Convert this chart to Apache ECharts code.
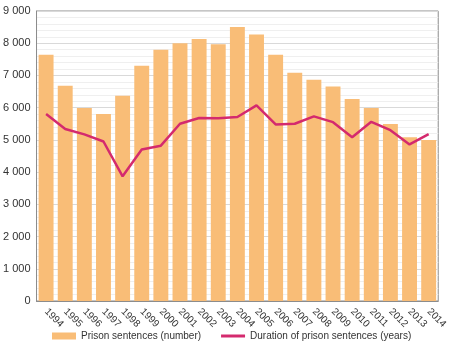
<!DOCTYPE html>
<html><head><meta charset="utf-8">
<script src="https://cdn.jsdelivr.net/npm/echarts@6/dist/echarts.min.js"></script>
<style>html,body{margin:0;padding:0;background:#fff}#c{width:450px;height:354px}</style>
</head><body><div id="c"></div>
<script>
var years = ['1994','1995','1996','1997','1998','1999','2000','2001','2002','2003','2004','2005','2006','2007','2008','2009','2010','2011','2012','2013','2014'];
var sentences = [7640,6680,5990,5800,6370,7300,7800,8000,8130,7970,8500,8270,7640,7080,6870,6660,6270,5990,5490,5080,5000];
var duration = [5800,5340,5170,4950,3870,4700,4820,5500,5680,5670,5710,6070,5480,5500,5730,5550,5080,5560,5300,4860,5180];
var yTicks = {min:0, max:9000, interval:1000};

var chart = echarts.init(document.getElementById('c'), null, {renderer:'canvas'});
chart.setOption({
  animation:false,
  textStyle:{fontFamily:'Liberation Sans, Arial, sans-serif'},
  grid:{left:35, right:11, top:11, bottom:53, show:true, borderColor:'#8c8c8c', borderWidth:1},
  legend:{
    bottom:8, left:47, width:420, orient:'horizontal', itemGap:20, itemWidth:24, itemHeight:7,
    textStyle:{fontSize:10, color:'#333', fontFamily:'Liberation Sans, Arial, sans-serif'},
    data:[
      {name:'Prison sentences (number)', icon:'rect'},
      {name:'Duration of prison sentences (years)', icon:'path://M0,0H24V3H0Z'}
    ]
  },
  xAxis:{
    type:'category', data:years,
    axisLine:{lineStyle:{color:'#8c8c8c'}},
    axisTick:{show:false},
    axisLabel:{rotate:-45, fontSize:10, color:'#333', interval:0, margin:9}
  },
  yAxis:{
    type:'value', min:yTicks.min, max:yTicks.max, interval:yTicks.interval,
    axisLine:{show:true, lineStyle:{color:'#8c8c8c'}},
    axisTick:{show:false},
    axisLabel:{fontSize:11, color:'#333', margin:6, formatter:function(v){return v>=1000? Math.floor(v/1000)+' '+String(v%1000).padStart(3,'0') : String(v);}},
    splitLine:{lineStyle:{color:'#d9d9d9'}},
    minorTick:{show:false, splitNumber:5},
    minorSplitLine:{show:true, lineStyle:{color:'#efefef'}}
  },
  series:[
    {name:'Prison sentences (number)', type:'bar', data:sentences, barCategoryGap:'22%', itemStyle:{color:'#F9BD77'}},
    {name:'Duration of prison sentences (years)', type:'line', data:duration, symbol:'none', lineStyle:{color:'#D42A6E', width:2.5}, itemStyle:{color:'#D42A6E'}}
  ]
});
</script></body></html>
